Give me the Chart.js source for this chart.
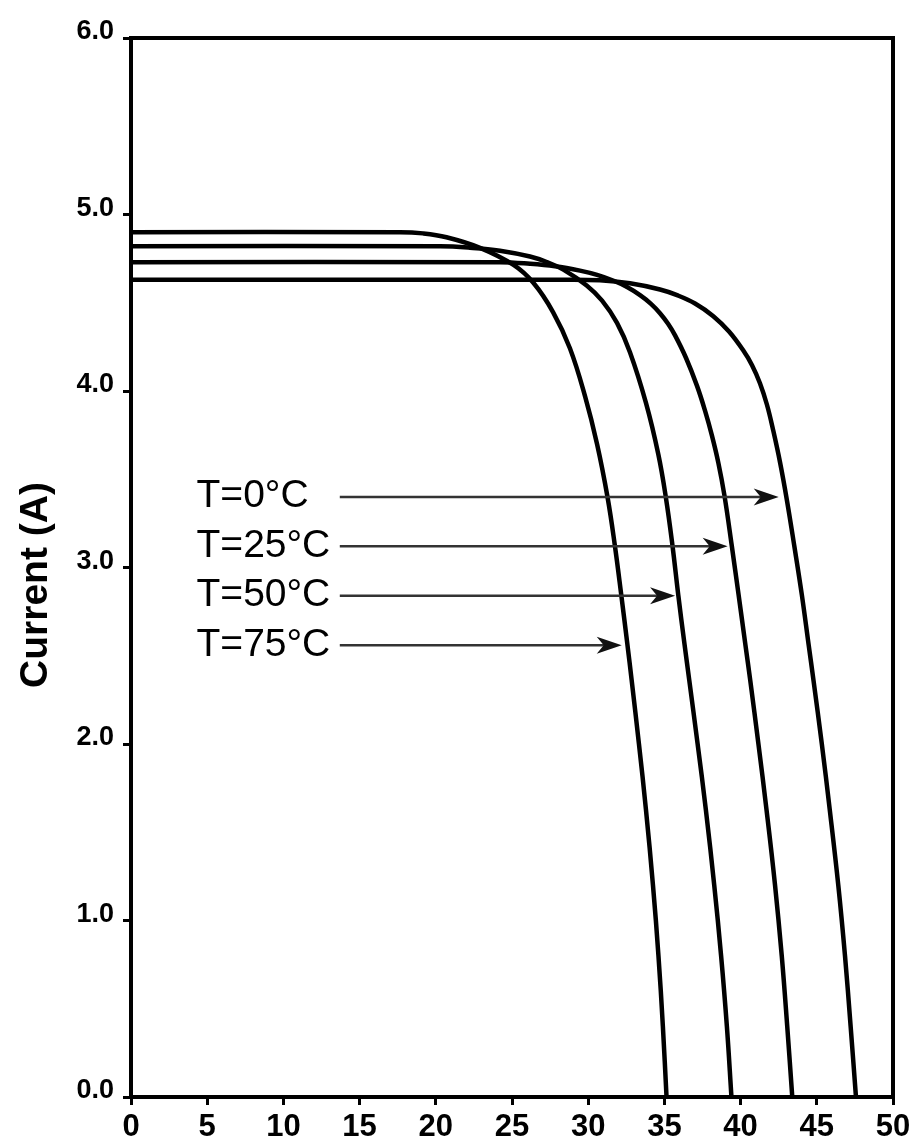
<!DOCTYPE html>
<html><head><meta charset="utf-8">
<script src="https://cdn.jsdelivr.net/npm/chart.js@4.4.1/dist/chart.umd.min.js"></script>
<style>html,body{margin:0;padding:0;background:#fff}</style>
</head><body>
<canvas id="c" width="917" height="1144"></canvas>
<script>
// ---- data ----
const xTickLabels = ['0','5','10','15','20','25','30','35','40','45','50'];
const yTickLabels = ['0.0','1.0','2.0','3.0','4.0','5.0','6.0'];

// T = 0 °C
const vT0  = [0, 28.15, 30.77, 32.74, 34.71, 35.83, 37.01, 38.21, 39.24, 40.18, 40.75, 41.27, 41.73, 42.15, 42.59, 43.04, 43.52, 44.02, 44.46, 44.78, 45.33, 45.85, 46.41, 46.85, 47.22, 47.57];
const iT0  = [4.63, 4.63, 4.627, 4.610, 4.575, 4.543, 4.496, 4.424, 4.337, 4.229, 4.146, 4.044, 3.922, 3.773, 3.595, 3.381, 3.124, 2.844, 2.565, 2.363, 2.0, 1.628, 1.2, 0.8, 0.4, 0];
// T = 25 °C
const vT25 = [0, 24.21, 26.18, 27.82, 29.46, 30.58, 31.63, 32.55, 33.40, 34.12, 34.71, 35.24, 35.70, 36.42, 37.14, 37.66, 38.12, 38.54, 38.94, 39.42, 39.87, 40.31, 40.63, 41.17, 41.70, 42.26, 42.70, 43.06, 43.39];
const iT25 = [4.73, 4.73, 4.721, 4.707, 4.682, 4.658, 4.626, 4.589, 4.543, 4.494, 4.441, 4.381, 4.315, 4.187, 4.029, 3.890, 3.747, 3.593, 3.408, 3.124, 2.844, 2.565, 2.363, 2.0, 1.628, 1.2, 0.8, 0.4, 0];
// T = 50 °C
const vT50 = [0, 20.28, 22.24, 24.21, 26.18, 27.28, 28.37, 29.90, 30.91, 31.89, 32.74, 33.79, 34.60, 35.10, 35.53, 35.91, 36.32, 36.63, 37.18, 37.72, 38.27, 38.72, 39.10, 39.40];
const iT50 = [4.82, 4.82, 4.812, 4.795, 4.762, 4.731, 4.688, 4.598, 4.512, 4.386, 4.220, 3.933, 3.642, 3.395, 3.124, 2.844, 2.565, 2.363, 2.0, 1.628, 1.2, 0.8, 0.4, 0];
// T = 75 °C
const vT75 = [0, 17.65, 19.16, 20.70, 22.90, 25.10, 26.40, 27.70, 28.80, 29.80, 30.58, 31.27, 31.75, 32.17, 32.57, 32.85, 33.33, 33.79, 34.25, 34.61, 34.90, 35.14];
const iT75 = [4.90, 4.90, 4.893, 4.871, 4.811, 4.714, 4.613, 4.446, 4.242, 3.968, 3.700, 3.398, 3.124, 2.844, 2.565, 2.363, 2.0, 1.628, 1.2, 0.8, 0.4, 0];

const arrowLabels = ['T=0°C', 'T=25°C', 'T=50°C', 'T=75°C'];
const arrowY      = [3.40, 3.12, 2.84, 2.56];
const arrowTipX   = [42.5, 39.15, 35.7, 32.2];
const arrowStartX = 13.7;
const labelX      = 4.3;
const yTitle = 'Current (A)';

// ---- helpers ----
const toPts = (v, i) => v.map((x, k) => ({x: x, y: i[k]}));
const series = [[vT0, iT0], [vT25, iT25], [vT50, iT50], [vT75, iT75]];

const annot = {
  id: 'annot',
  afterDraw(chart) {
    const {ctx, chartArea: a, scales: {x, y}} = chart;
    ctx.save();
    // top & right frame
    ctx.strokeStyle = '#000';
    ctx.lineWidth = 4;
    ctx.lineCap = 'square';
    ctx.beginPath();
    ctx.moveTo(a.left, a.top);
    ctx.lineTo(a.right, a.top);
    ctx.lineTo(a.right, a.bottom);
    ctx.stroke();
    // arrows + labels
    ctx.lineCap = 'butt';
    for (let k = 0; k < arrowLabels.length; k++) {
      const yy = y.getPixelForValue(arrowY[k]);
      const sx = x.getPixelForValue(arrowStartX);
      const tx = x.getPixelForValue(arrowTipX[k]);
      ctx.strokeStyle = '#333';
      ctx.lineWidth = 2.5;
      ctx.beginPath();
      ctx.moveTo(sx, yy);
      ctx.lineTo(tx - 15, yy);
      ctx.stroke();
      ctx.fillStyle = '#111';
      ctx.beginPath();
      ctx.moveTo(tx, yy);
      ctx.lineTo(tx - 25, yy - 8.5);
      ctx.lineTo(tx - 18, yy);
      ctx.lineTo(tx - 25, yy + 8.5);
      ctx.closePath();
      ctx.fill();
      ctx.fillStyle = '#000';
      ctx.font = '39px "Liberation Sans", Arial, sans-serif';
      ctx.textAlign = 'left';
      ctx.textBaseline = 'alphabetic';
      ctx.fillText(arrowLabels[k], x.getPixelForValue(labelX), yy + 10.5);
    }
    // y axis title
    ctx.translate(36, 585);
    ctx.rotate(-Math.PI / 2);
    ctx.font = 'bold 39px "Liberation Sans", Arial, sans-serif';
    ctx.textAlign = 'center';
    ctx.textBaseline = 'middle';
    ctx.fillStyle = '#000';
    ctx.fillText(yTitle, 0, 0);
    ctx.restore();
  }
};

new Chart(document.getElementById('c'), {
  type: 'line',
  data: {
    datasets: series.map(s => ({
      data: toPts(s[0], s[1]),
      borderColor: '#000',
      borderWidth: 4.5,
      pointRadius: 0,
      fill: false,
      tension: 0.4
    }))
  },
  options: {
    responsive: false,
    animation: false,
    devicePixelRatio: 1,
    layout: {padding: {top: 38, right: 24, left: 0, bottom: 0}},
    plugins: {legend: {display: false}, tooltip: {enabled: false}},
    scales: {
      x: {
        type: 'linear', min: 0, max: 50,
        afterFit: s => { s.height = 47; },
        ticks: {
          stepSize: 5, color: '#000', padding: 4,
          font: {family: '"Liberation Sans", Arial', size: 31, weight: 'bold'},
          callback: (v) => xTickLabels[Math.round(v / 5)]
        },
        grid: {drawOnChartArea: false, drawTicks: true, tickLength: 8, tickWidth: 3, tickColor: '#000'},
        border: {display: true, width: 4, color: '#000'}
      },
      y: {
        type: 'linear', min: 0, max: 6,
        afterFit: s => { s.width = 131; },
        ticks: {
          stepSize: 1, color: '#000', padding: 9, labelOffset: -6,
          font: {family: '"Liberation Sans", Arial', size: 27, weight: 'bold'},
          callback: (v) => yTickLabels[Math.round(v)]
        },
        grid: {drawOnChartArea: false, drawTicks: true, tickLength: 8, tickWidth: 3, tickColor: '#000'},
        border: {display: true, width: 4, color: '#000'}
      }
    }
  },
  plugins: [annot]
});
</script>
</body></html>
